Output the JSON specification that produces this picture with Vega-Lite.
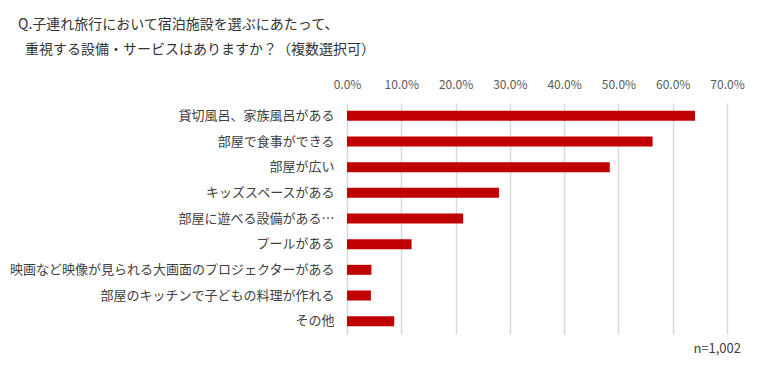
{
  "$schema": "https://vega.github.io/schema/vega-lite/v6.json",
  "width": 380,
  "height": 231,
  "autosize": {"type": "none"},
  "padding": {"left": 347, "top": 103, "right": 33, "bottom": 33},
  "background": "white",
  "title": {
    "text": ["Q.子連れ旅行において宿泊施設を選ぶにあたって、", "\u200b\u2002重視する設備・サービスはありますか？（複数選択可）"],
    "anchor": "start",
    "frame": "group",
    "dx": -329,
    "offset": 21,
    "font": "Noto Sans CJK JP",
    "fontSize": 14,
    "fontWeight": "normal",
    "lineHeight": 25,
    "color": "#333333"
  },
  "config": {"view": {"stroke": null}},
  "datasets": {
    "main": [
      {"item": "貸切風呂、家族風呂がある", "value": 0.641},
      {"item": "部屋で食事ができる", "value": 0.563},
      {"item": "部屋が広い", "value": 0.484},
      {"item": "キッズスペースがある", "value": 0.280},
      {"item": "部屋に遊べる設備がある…", "value": 0.214},
      {"item": "プールがある", "value": 0.119},
      {"item": "映画など映像が見られる大画面のプロジェクターがある", "value": 0.045},
      {"item": "部屋のキッチンで子どもの料理が作れる", "value": 0.044},
      {"item": "その他", "value": 0.087}
    ]
  },
  "layer": [
    {
      "data": {"name": "main"},
      "mark": {"type": "bar", "color": "#C00000", "size": 10},
      "encoding": {
        "y": {
          "field": "item",
          "type": "nominal",
          "sort": null,
          "axis": {
            "title": null,
            "ticks": false,
            "domain": false,
            "labelPadding": 13,
            "labelFont": "Noto Sans CJK JP",
            "labelFontSize": 13,
            "labelColor": "#404040",
            "labelLimit": 400
          }
        },
        "x": {
          "field": "value",
          "type": "quantitative",
          "scale": {"domain": [0, 0.7], "nice": false},
          "axis": {
            "orient": "top",
            "title": null,
            "format": ".1%",
            "values": [0, 0.1, 0.2, 0.3, 0.4, 0.5, 0.6, 0.7],
            "ticks": false,
            "domain": false,
            "labelFlush": false,
            "labelOverlap": false,
            "labelPadding": 12,
            "labelFont": "Noto Sans CJK JP",
            "labelFontSize": 12,
            "labelColor": "#595959",
            "gridColor": "#D9D9D9",
            "gridWidth": 1.5
          }
        }
      }
    },
    {
      "data": {"values": [{"item": "その他", "note": "n=1,002"}]},
      "mark": {"type": "text", "align": "right", "baseline": "middle", "dx": 14, "dy": 28, "font": "Noto Sans CJK JP", "fontSize": 13, "color": "#404040"},
      "encoding": {
        "y": {"field": "item", "type": "nominal", "sort": null},
        "x": {"datum": 0.7, "type": "quantitative"},
        "text": {"field": "note"}
      }
    }
  ]
}
